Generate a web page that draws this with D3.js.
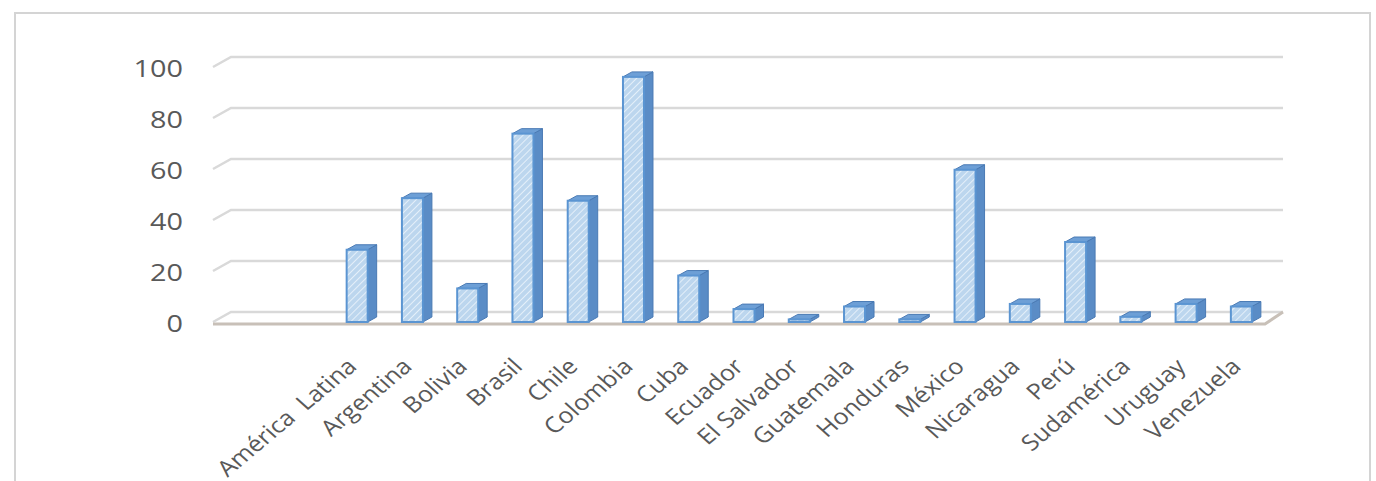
<!DOCTYPE html>
<html>
<head>
<meta charset="utf-8">
<script src="https://cdn.jsdelivr.net/npm/d3@7"></script>
<style>
  html, body { margin: 0; padding: 0; background: #fff; }
  svg { display: block; }
</style>
</head>
<body>
<div id="chart"></div>
<script>
// Categories (two empty slots at the start, as in the original sheet)
var categories = ['', '', 'América  Latina', 'Argentina', 'Bolivia', 'Brasil', 'Chile', 'Colombia',
  'Cuba', 'Ecuador', 'El Salvador', 'Guatemala', 'Honduras', 'México', 'Nicaragua',
  'Perú', 'Sudamérica', 'Uruguay', 'Venezuela'];
var values = [null, null, 28, 48, 13, 73, 47, 95, 18, 5, 1, 6, 1, 59, 7, 31, 2, 7, 6];
var yTicks = [0, 20, 40, 60, 80, 100];

var width = 1376, height = 481;
var svg = d3.select('#chart').append('svg')
    .attr('width', width)
    .attr('height', height);

var defs = svg.append('defs');
// light diagonal hatch used on the bar fronts
var pat = defs.append('pattern')
    .attr('id', 'hatch')
    .attr('patternUnits', 'userSpaceOnUse')
    .attr('width', 5).attr('height', 5)
    .attr('patternTransform', 'rotate(45)');
pat.append('rect').attr('width', 5).attr('height', 5).attr('fill', '#bcd6ee');
pat.append('line').attr('x1', 0).attr('y1', 0).attr('x2', 0).attr('y2', 5)
    .attr('stroke', '#e4eff9').attr('stroke-width', 2);

// outer frame
svg.append('rect')
    .attr('x', 15).attr('y', 13)
    .attr('width', 1355).attr('height', 490)
    .attr('fill', '#fff')
    .attr('stroke', '#d4d4d4')
    .attr('stroke-width', 2);

// depth of the floor / side wall
var depthX = 18, depthY = 12;

var x = d3.scaleBand()
    .domain(d3.range(categories.length))
    .range([215, 1265])
    .paddingInner(0);

var yBack = d3.scaleLinear().domain([0, 100]).range([312, 57]);
var yFront = d3.scaleLinear().domain([0, 100]).range([322, 64]);

// gridlines on the back wall, with the slanted piece on the side wall
var grid = svg.append('g');
yTicks.forEach(function (t) {
  var yy = yBack(t);
  grid.append('path')
      .attr('d', 'M' + (213) + ',' + (yy + 10) + ' L' + (213 + depthX) + ',' + yy +
          ' L' + (1265 + depthX) + ',' + yy)
      .attr('fill', 'none')
      .attr('stroke', '#d9d9d9')
      .attr('stroke-width', 2.5);
});

// floor front edge
svg.append('path')
    .attr('d', 'M213,' + (yBack(0) + depthY) + ' L1265,' + (yBack(0) + depthY) +
        ' L' + (1265 + depthX) + ',' + yBack(0))
    .attr('fill', 'none')
    .attr('stroke', '#c8c0b8')
    .attr('stroke-width', 3);

// y tick labels
svg.append('g').selectAll('text')
    .data(yTicks)
    .enter().append('text')
    .attr('transform', function (d) {
      return 'translate(183,' + (yBack(d) + 19.5) + ') scale(1.2,1)';
    })
    .attr('text-anchor', 'end')
    .attr('font-family', 'Open Sans, sans-serif')
    .attr('font-size', 24)
    .attr('fill', '#595959')
    .text(function (d) { return d; });

// 3D bars
var frontW = 21, sideX = 9, sideY = 5;
var bars = svg.append('g').selectAll('g')
    .data(values.map(function (v, i) { return { v: v, i: i }; })
        .filter(function (d) { return d.v !== null; }))
    .enter().append('g');

bars.each(function (d) {
  var g = d3.select(this);
  var x0 = x(d.i) + x.bandwidth() / 2 + 4 - frontW / 2;
  var x1 = x0 + frontW;
  var yb = yFront(0), yt = yFront(d.v);
  // side face
  g.append('path')
      .attr('d', 'M' + x1 + ',' + yb + ' L' + x1 + ',' + yt + ' L' + (x1 + sideX) + ',' + (yt - sideY) +
          ' L' + (x1 + sideX) + ',' + (yb - sideY) + 'Z')
      .attr('fill', '#5a8cc6')
      .attr('stroke', '#4a7ab4')
      .attr('stroke-width', 1);
  // top face
  g.append('path')
      .attr('d', 'M' + x0 + ',' + yt + ' L' + x1 + ',' + yt + ' L' + (x1 + sideX) + ',' + (yt - sideY) +
          ' L' + (x0 + sideX) + ',' + (yt - sideY) + 'Z')
      .attr('fill', '#6d9fd6')
      .attr('stroke', '#4a7ab4')
      .attr('stroke-width', 1);
  // front face
  g.append('rect')
      .attr('x', x0).attr('y', yt)
      .attr('width', frontW).attr('height', Math.max(0.5, yb - yt))
      .attr('fill', 'url(#hatch)')
      .attr('stroke', '#5b95d2')
      .attr('stroke-width', 2);
});

// category labels, rotated
svg.append('g').selectAll('text')
    .data(categories.map(function (c, i) { return { c: c, i: i }; })
        .filter(function (d) { return d.c !== ''; }))
    .enter().append('text')
    .attr('transform', function (d) {
      var cx = x(d.i) + x.bandwidth() / 2 + 5;
      return 'translate(' + cx + ',368) scale(1.15,1) rotate(-44)';
    })
    .attr('text-anchor', 'end')
    .attr('font-family', 'Open Sans, sans-serif')
    .attr('font-size', 22)
    .attr('fill', '#595959')
    .style('white-space', 'pre')
    .text(function (d) { return d.c; });
</script>
</body>
</html>
